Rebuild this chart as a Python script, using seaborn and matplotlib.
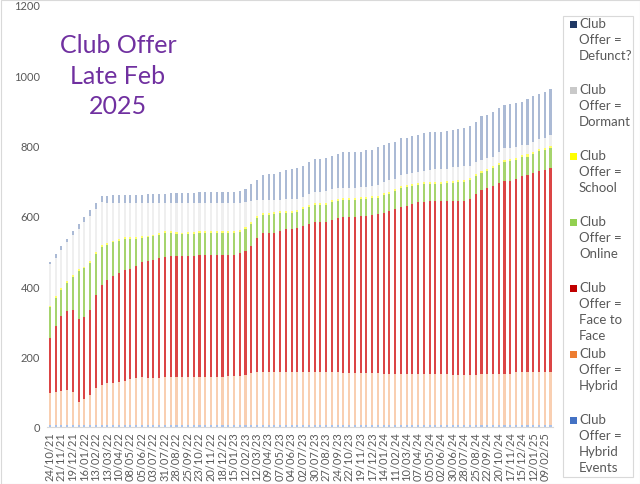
import matplotlib
matplotlib.use("Agg")
import matplotlib.pyplot as plt
from matplotlib.patches import Rectangle
import seaborn as sns
import pandas as pd

# ---------------- data ----------------
dates = pd.date_range("2021-10-24", periods=88, freq="14D").strftime("%d/%m/%y").tolist()

hybrid_events = [5] * 88
hybrid = [91, 94, 98, 101, 94, 67, 75, 87, 105, 114, 119, 121, 124, 127, 131, 135, 136, 135, 135, 135,
          136, 138, 138, 138, 138, 138, 138, 138, 138, 138, 138, 141, 141, 141, 144, 148, 151, 151, 151, 151,
          151, 151, 151, 150, 150, 150, 150, 150, 150, 150, 150, 149, 149, 149, 149, 149, 148, 148, 147, 147,
          147, 146, 146, 146, 146, 146, 145, 145, 145, 145, 143, 143, 143, 143, 144, 145, 146, 147, 147, 147,
          147, 150, 150, 150, 150, 151, 152, 152]
face_to_face = [156, 189, 212, 225, 234, 235, 234, 242, 265, 285, 294, 302, 309, 315, 313, 319, 327, 333, 335, 341,
                343, 344, 344, 344, 344, 344, 347, 347, 347, 347, 347, 344, 344, 348, 351, 363, 381, 395, 395, 397,
                402, 406, 406, 410, 416, 422, 427, 427, 429, 435, 440, 443, 443, 443, 445, 447, 450, 453, 457, 462,
                468, 476, 477, 484, 488, 490, 493, 493, 493, 493, 495, 495, 495, 500, 513, 524, 528, 532, 542, 548,
                548, 550, 558, 562, 567, 572, 575, 579]
online = [88, 79, 75, 78, 94, 136, 137, 132, 117, 109, 100, 97, 92, 88, 86, 77, 69, 66, 67, 65,
          67, 64, 62, 61, 62, 62, 62, 62, 62, 62, 62, 63, 63, 61, 63, 60, 56, 52, 52, 53,
          50, 46, 47, 47, 49, 49, 49, 49, 48, 49, 48, 49, 49, 48, 49, 47, 47, 46, 51, 49,
          50, 52, 54, 49, 49, 50, 48, 49, 48, 51, 51, 54, 54, 54, 51, 48, 50, 52, 52, 54,
          57, 55, 54, 52, 55, 56, 55, 56]
school = [4] + [5] * 33 + [6] * 54
dormant = [120, 109, 108, 111, 114, 115, 126, 130, 123, 121, 114, 107, 102, 97, 97, 96, 95, 93, 90, 86,
           81, 81, 82, 83, 82, 82, 79, 79, 79, 79, 79, 78, 78, 77, 71, 62, 46, 36, 36, 33,
           31, 34, 33, 30, 27, 31, 32, 32, 33, 32, 32, 29, 29, 30, 29, 29, 30, 30, 30, 33,
           29, 32, 32, 32, 32, 32, 35, 35, 36, 35, 38, 35, 38, 33, 34, 32, 30, 27, 31, 32,
           29, 31, 28, 28, 28, 29, 30, 32]
defunct = [4, 11, 13, 11, 12, 14, 14, 16, 17, 17, 21, 23, 23, 23, 23, 23, 23, 25, 25, 25,
           25, 27, 28, 28, 28, 28, 31, 31, 31, 31, 31, 31, 31, 35, 37, 47, 57, 72, 74, 74,
           81, 82, 85, 88, 90, 91, 93, 93, 93, 94, 95, 102, 102, 100, 100, 105, 103, 107, 106, 105,
           106, 104, 103, 106, 105, 107, 106, 107, 107, 106, 107, 109, 108, 116, 115, 123, 122, 126, 123, 124,
           126, 124, 124, 130, 129, 128, 130, 131]

series_names = ["Club Offer = Hybrid Events", "Club Offer = Hybrid", "Club Offer = Face to Face",
                "Club Offer = Online", "Club Offer = School", "Club Offer = Dormant", "Club Offer = Defunct?"]
series_values = [hybrid_events, hybrid, face_to_face, online, school, dormant, defunct]
bar_colors = ["#A9C1EA", "#F9CFB1", "#DB4545", "#A6D46E", "#FFFF66", "#EFEFEF", "#ABBAD5"]
# legend, listed top to bottom
legend_colors = ["#203864", "#C9C9C9", "#FFFF00", "#92D050", "#C00000", "#ED7D31", "#4472C4"]
legend_labels = ["Club\nOffer =\nDefunct?", "Club\nOffer =\nDormant", "Club\nOffer =\nSchool",
                 "Club\nOffer =\nOnline", "Club\nOffer =\nFace to\nFace", "Club\nOffer =\nHybrid",
                 "Club\nOffer =\nHybrid\nEvents"]

df = pd.DataFrame(dict(zip(series_names, series_values)), index=dates)
cum = df.cumsum(axis=1)

# ---------------- figure ----------------
sns.set_theme(style="white")
plt.rcParams["font.family"] = ["Lato", "DejaVu Sans"]

fig = plt.figure(figsize=(6.4, 4.85), dpi=100)
W, H = 640, 485
ax = fig.add_axes([47 / W, 1 - 428 / H, (553.4 - 47) / W, (428 - 6) / H])

# draw stacked bars: tallest cumulative first, then overlay lower layers
for name, col in zip(reversed(series_names), reversed(bar_colors)):
    sns.barplot(x=cum.index, y=cum[name].values, color=col, width=0.36,
                saturation=1, linewidth=0, ax=ax)

ax.set_xlim(-0.5, len(dates) - 0.5)
ax.set_ylim(0, 1200)
ax.set_yticks(range(0, 1201, 200))
ax.set_xticks(range(0, len(dates), 2))
ax.set_xticklabels(dates[::2], rotation=90)
ax.set_xlabel("")
ax.set_ylabel("")
ax.tick_params(axis="both", length=0, labelsize=8, colors="#595959")
ax.tick_params(axis="y", pad=5)
ax.tick_params(axis="x", pad=3)
for s in ["top", "right", "left"]:
    ax.spines[s].set_visible(False)
ax.spines["bottom"].set_color("#D9D9D9")
ax.spines["bottom"].set_linewidth(0.8)
ax.grid(False)

# title
fig.text(118 / W, 1 - 76 / H, "Club Offer\nLate Feb\n2025", ha="center", va="center",
         fontsize=18, color="#7030A0", linespacing=1.42)

# legend (drawn manually to match layout)
fig.add_artist(Rectangle((563 / W, 1 - 478 / H), 70 / W, 461 / H, transform=fig.transFigure,
                         fill=False, edgecolor="#D9D9D9", linewidth=0.8))
for k, (lab, col) in enumerate(zip(legend_labels, legend_colors)):
    yc = 25 + 66 * k
    fig.add_artist(Rectangle((570 / W, 1 - (yc + 3.5) / H), 7 / W, 7 / H,
                             transform=fig.transFigure, facecolor=col, edgecolor="none"))
    fig.text(579 / W, 1 - (yc - 7) / H, lab, ha="left", va="top", fontsize=9.5,
             color="#595959", linespacing=1.4)

# outer border
fig.add_artist(Rectangle((0.5 / W, 0.5 / H), 639 / W, 484 / H, transform=fig.transFigure,
                         fill=False, edgecolor="#D9D9D9", linewidth=0.8))

fig.savefig("out.png", dpi=100)
